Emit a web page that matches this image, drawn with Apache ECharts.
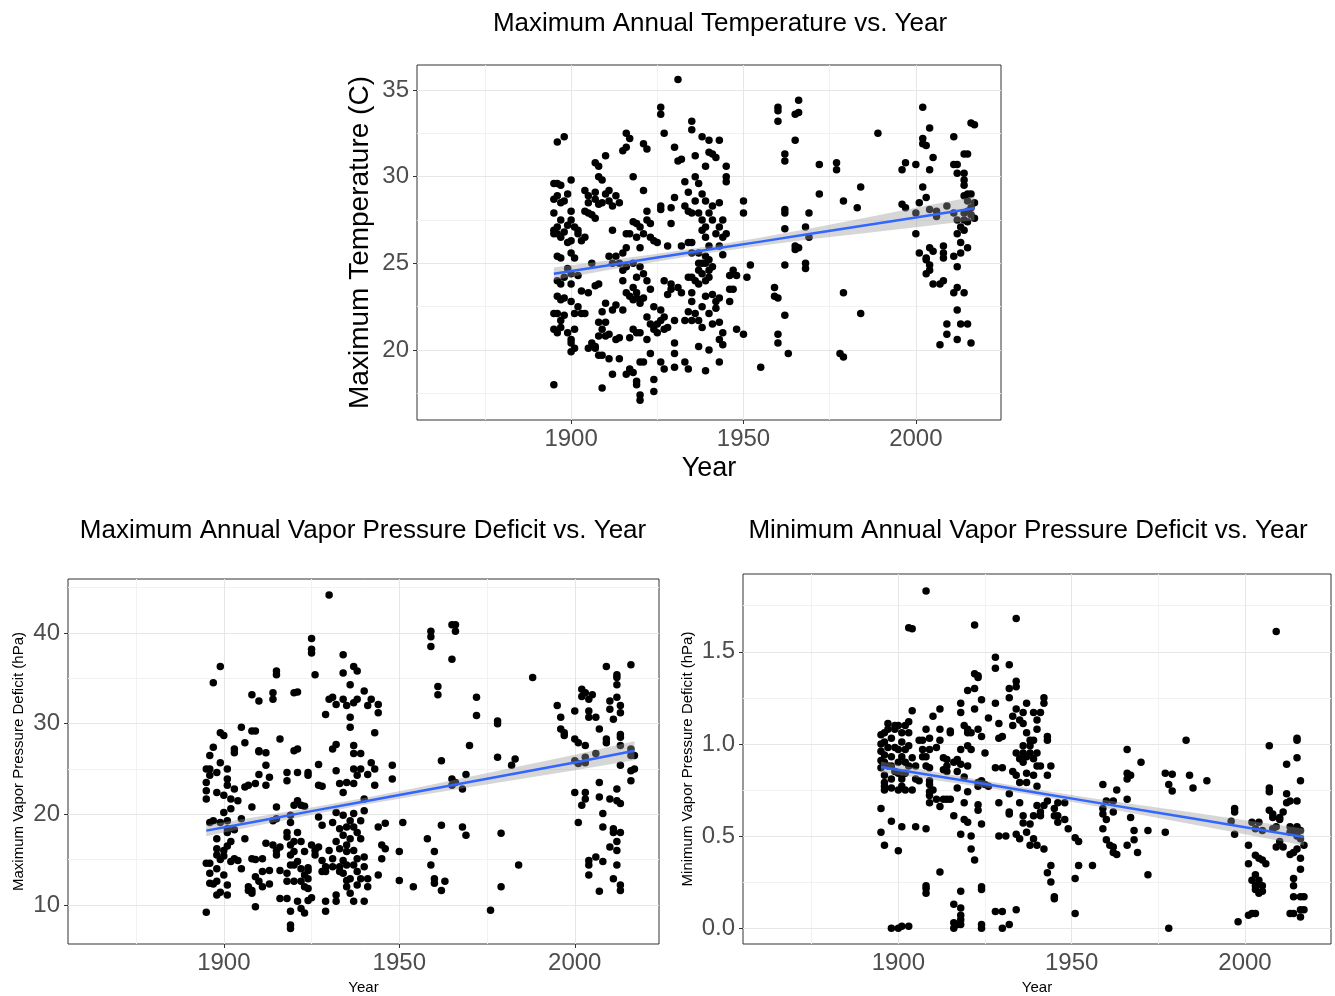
<!DOCTYPE html>
<html>
<head>
<meta charset="utf-8">
<title>Annual temperature and vapor pressure deficit vs. year</title>
<script src="https://cdn.jsdelivr.net/npm/echarts@6.0.0/dist/echarts.min.js"></script>
<style>
html, body { margin: 0; padding: 0; background: #fff; }
#main { width: 1335px; height: 996px; }
</style>
</head>
<body>
<div id="main"></div>
<script>
'use strict';

// ---- maximum annual temperature (C), grouped by year ----
var tmaxYears = [1895, 1896, 1897, 1898, 1899, 1900, 1901, 1902, 1903, 1904, 1905, 1906, 1907, 1908, 1909, 1910,
	1911, 1912, 1913, 1914, 1915, 1916, 1917, 1918, 1919, 1920, 1921, 1922, 1923, 1924, 1925, 1926, 1927, 1928,
	1929, 1930, 1931, 1932, 1933, 1934, 1935, 1936, 1937, 1938, 1939, 1940, 1941, 1942, 1943, 1944, 1945, 1946,
	1947, 1948, 1950, 1951, 1952, 1955, 1959, 1960, 1962, 1963, 1965, 1966, 1968, 1969, 1972, 1977, 1978, 1979,
	1983, 1984, 1989, 1996, 1997, 2000, 2001, 2002, 2003, 2004, 2005, 2006, 2007, 2008, 2009, 2011, 2012, 2013,
	2014, 2015, 2016, 2017];
var tmaxValues = [
	[18.0, 22.1, 21.2, 26.7, 26.9, 27.9, 28.7, 29.6],
	[29.6, 28.9, 27.1, 26.7, 25.4, 24.0, 23.1, 22.1, 21.0, 32.0],
	[28.5, 27.5, 26.5, 25.3, 23.8, 22.9, 21.7, 21.3, 29.5],
	[32.3, 28.6, 26.8, 24.2, 23.0, 22.0],
	[29.0, 27.2, 26.2, 24.7, 21.0],
	[29.8, 28.0, 27.5, 26.3, 25.6, 24.4, 23.8, 22.8, 20.6, 20.4, 19.9],
	[27.1, 25.3, 22.1, 21.2, 20.1],
	[26.7, 24.3, 22.5, 26.9],
	[26.3, 23.4, 22.1],
	[29.2, 28.0, 26.5, 22.1],
	[28.9, 28.5, 27.9, 23.3, 20.1],
	[27.8, 25.0, 20.4],
	[30.8, 29.1, 28.7, 27.6, 23.7, 20.2, 20.1],
	[30.6, 30.0, 28.4, 23.8, 21.6, 20.8, 19.7],
	[29.8, 28.5, 22.2, 21.2, 19.7, 17.8],
	[31.2, 29.0, 22.7, 21.6, 20.8],
	[29.2, 28.6, 25.4, 20.9, 19.5],
	[28.3, 26.9, 25.0, 22.3, 18.6],
	[28.9, 25.4, 22.6, 20.6],
	[28.5, 25.0, 20.7, 19.5],
	[31.5, 25.6, 24.6, 24.0, 22.3],
	[32.5, 31.7, 26.7, 25.9, 24.8, 23.3, 18.6],
	[32.2, 26.7, 23.1, 20.7, 18.9],
	[30.0, 27.4, 25.0, 23.6, 22.9, 21.2, 18.7],
	[27.3, 26.5, 24.2, 23.3, 23.0, 21.0, 18.0, 18.2],
	[27.1, 25.9, 24.8, 22.7, 21.0, 19.3, 17.4, 17.1, 22.9],
	[31.9, 29.2, 26.7, 24.4, 23.0, 19.3],
	[31.6, 28.0, 27.5, 24.0, 21.9, 20.6],
	[27.3, 26.5, 23.5, 21.5, 19.8],
	[26.3, 22.5, 21.2, 18.3, 17.6],
	[26.2, 21.5, 21.0],
	[34.0, 33.6, 28.3, 28.1, 22.3, 21.7, 19.3],
	[32.5, 24.0, 21.2, 18.9, 21.9],
	[26.0, 23.2, 21.3],
	[28.2, 27.3, 23.8, 23.5],
	[31.7, 28.8, 21.7, 20.4, 19.0, 19.8],
	[35.6, 30.9, 23.6],
	[31.0, 26.0, 23.3],
	[29.7, 28.3, 21.7, 19.3],
	[29.1, 28.0, 26.2, 24.2, 22.2, 18.9],
	[33.2, 32.7, 27.9, 26.2, 25.6, 24.2, 23.3, 22.8, 21.7],
	[31.2, 30.0, 28.6, 24.0, 22.1],
	[29.6, 27.9, 25.6, 25.0, 24.6, 23.8, 21.7, 20.2],
	[32.3, 29.0, 27.5, 26.9, 25.0, 24.4, 22.5, 21.3],
	[30.6, 28.6, 27.1, 26.5, 25.4, 25.0, 24.0, 23.1, 18.8],
	[32.1, 31.4, 27.9, 26.0, 25.2, 24.6, 24.2, 22.1, 20.0],
	[31.3, 28.3, 27.5, 24.8, 23.2, 21.5],
	[31.1, 26.7, 22.8, 22.4],
	[32.1, 28.5, 27.1, 26.0, 23.0, 21.6, 20.6, 19.3],
	[27.5, 26.5, 25.5, 21.0, 20.3],
	[30.6, 30.0, 29.7, 26.7],
	[24.3, 23.5, 22.8],
	[24.6, 23.5],
	[24.3, 21.2],
	[28.6, 27.9, 20.9],
	[24.2],
	[24.9],
	[19.0],
	[23.6, 23.1],
	[34.0, 33.8, 33.2, 23.0, 20.9, 20.4],
	[31.3, 30.9, 28.1, 27.9, 27.0, 24.9, 22.0],
	[19.8],
	[33.6, 32.1, 26.0, 25.8],
	[34.4, 33.7, 25.9],
	[27.1, 25.0, 24.7],
	[27.9, 26.5],
	[30.7, 29.0],
	[30.8, 30.4],
	[19.8],
	[28.6, 23.3, 19.6],
	[28.2],
	[29.4, 22.1],
	[32.5],
	[30.4, 28.4],
	[30.8, 28.2],
	[30.7, 27.9, 26.7],
	[28.5, 25.6],
	[34.0, 32.2, 31.9, 29.4],
	[31.8, 28.8, 25.3, 25.2, 24.4],
	[32.8, 30.4, 28.1, 25.9, 24.9, 24.6],
	[31.1, 25.7, 23.8],
	[28.0, 27.7],
	[23.8, 20.3],
	[26.0, 25.6, 25.3, 24.0],
	[28.3, 21.5, 20.9],
	[32.3, 30.7, 27.9, 23.3, 25.4],
	[30.7, 30.2, 27.5, 26.7, 24.8, 22.3, 20.6, 23.6],
	[27.1, 26.2, 25.6, 21.5],
	[31.3, 30.2, 29.8, 29.5, 28.9, 27.9, 27.5, 26.9, 23.3],
	[31.3, 29.0, 28.6, 28.0, 27.4, 25.9, 21.5],
	[33.1, 29.0, 28.2, 27.8, 20.4],
	[33.0, 28.5, 27.6]
];

// ---- maximum annual vapor pressure deficit (hPa), grouped by year ----
var vpdMaxYears = [1895, 1896, 1897, 1898, 1899, 1900, 1901, 1902, 1903, 1904, 1905, 1906, 1907, 1908, 1909, 1910,
	1911, 1912, 1913, 1914, 1915, 1916, 1918, 1919, 1920, 1921, 1922, 1923, 1924, 1925, 1926, 1927, 1928, 1929,
	1930, 1931, 1932, 1933, 1934, 1935, 1936, 1937, 1938, 1939, 1940, 1941, 1942, 1943, 1944, 1945, 1946, 1948,
	1950, 1951, 1954, 1958, 1959, 1960, 1961, 1962, 1963, 1965, 1966, 1968, 1969, 1970, 1972, 1976, 1978, 1979,
	1982, 1983, 1984, 1988, 1995, 1996, 1997, 2000, 2001, 2002, 2003, 2004, 2005, 2006, 2007, 2008, 2009, 2010,
	2011, 2012, 2013, 2016, 2017];
var vpdMaxValues = [
	[9.2, 14.6, 21.7, 22.6, 23.5, 25.0],
	[12.4, 13.5, 14.6, 19.1, 25.0, 26.5, 24.3],
	[27.4, 34.5, 12.3, 19.3],
	[11.1, 12.6, 14.0, 15.5, 16.2, 17.3, 22.4, 24.6],
	[19.1, 25.7, 29.0, 36.3, 15.0, 11.4],
	[28.7, 22.1, 20.2, 16.0, 15.4, 13.3],
	[11.1, 12.2, 18.4, 19.3, 23.2, 23.9, 25.0, 16.5, 18.0],
	[14.8, 20.6, 21.7, 17.0],
	[15.1, 18.3, 26.8, 27.2, 22.8],
	[14.9, 21.5],
	[14.0, 19.5, 29.6],
	[23.0, 27.9, 17.3],
	[11.6, 23.2, 12.0],
	[11.3, 15.1, 20.8, 33.2, 29.2, 11.6],
	[9.8, 15.0, 23.4, 29.2, 13.1],
	[12.6, 27.0, 32.5, 24.4, 26.9],
	[15.1, 12.0, 13.7],
	[16.8, 23.2, 25.4, 26.8],
	[24.1, 12.3, 13.8],
	[32.7, 33.4, 16.6, 19.3],
	[16.0, 19.5, 35.4, 35.8, 15.5, 20.8],
	[10.7, 13.8, 16.4, 28.3],
	[10.7, 12.6, 13.5, 17.5, 18.0, 23.7, 24.6],
	[7.4, 7.8, 9.3, 14.4, 15.5, 16.6, 19.1, 19.9],
	[12.6, 15.9, 21.0, 27.0, 33.4, 17.0, 14.4],
	[10.4, 14.8, 18.0, 21.5, 33.5, 24.6, 27.2],
	[9.6, 12.6, 17.0, 14.0, 21.0],
	[9.1, 15.9, 13.3, 12.0, 20.9],
	[13.8, 12.9, 11.8, 10.5, 24.6, 24.3, 14.1],
	[39.4, 38.2, 37.8, 16.6, 10.8],
	[35.4, 15.5, 16.0],
	[16.4, 25.5, 19.7, 23.2],
	[18.8, 14.9, 13.7, 23.1],
	[31.0, 9.3, 10.4, 13.7, 14.2],
	[44.2, 32.7, 16.0],
	[32.9, 27.2, 19.1, 15.1, 14.2],
	[32.1, 27.7, 24.8, 20.2, 10.4, 11.1, 17.0],
	[23.4, 18.4, 16.2, 14.2, 13.7],
	[37.6, 35.6, 32.7, 19.9, 22.4, 17.7, 14.9, 13.5],
	[32.0, 23.5, 18.6, 16.6, 15.9, 14.4, 12.7, 12.0],
	[34.3, 29.6, 19.3, 17.3, 12.9, 11.3, 30.7],
	[36.3, 32.3, 27.6, 26.7, 25.0, 23.4, 20.1, 18.6, 16.0, 14.4, 10.4],
	[35.8, 32.7, 24.3, 18.0, 15.1, 13.7, 12.2],
	[26.7, 25.0, 19.3, 17.3, 12.9],
	[33.6, 21.7, 20.4, 15.3, 14.2, 10.4],
	[32.0, 24.4, 12.9, 12.0],
	[32.7, 25.7],
	[29.0, 25.0, 23.2],
	[31.2, 32.1, 18.6, 13.3],
	[16.6, 15.1],
	[19.0, 16.2],
	[25.4, 23.9],
	[12.7, 15.9],
	[19.1],
	[12.0],
	[17.3],
	[40.2, 39.6, 38.5, 14.4],
	[15.9, 12.9, 12.4],
	[34.1, 33.2],
	[25.9, 18.8, 11.6],
	[12.6],
	[40.9, 37.1, 23.9, 23.2],
	[40.2, 40.9, 23.5],
	[18.6, 22.8],
	[17.7, 24.4],
	[27.6],
	[32.9, 30.9],
	[9.4],
	[30.3, 30.0, 26.3],
	[17.9, 12.0],
	[25.4],
	[26.1],
	[14.4],
	[35.1],
	[32.0],
	[30.7, 29.4],
	[29.0, 28.7],
	[31.4, 28.3, 22.4, 25.9],
	[27.9, 25.6, 19.1],
	[33.8, 33.0, 21.0],
	[33.4, 27.6, 26.3, 25.7, 22.4, 21.7],
	[32.7, 31.4, 30.7, 14.9, 14.4, 13.3],
	[33.2],
	[30.7, 26.7, 15.3],
	[29.4, 23.5, 21.9, 11.5],
	[20.1, 18.6, 14.8],
	[36.3, 28.3, 27.9],
	[32.5, 31.6, 16.4, 21.7],
	[30.5, 12.9, 18.4, 18.0],
	[35.4, 35.1, 34.3, 32.9, 21.5, 22.8, 17.0, 16.0, 14.4],
	[32.0, 31.2, 28.8, 28.5, 27.6, 25.4, 21.2, 18.0, 12.2, 11.6],
	[36.5, 27.2, 26.5, 24.8, 23.7],
	[26.5, 25.0]
];

// ---- minimum annual vapor pressure deficit (hPa), grouped by year ----
var vpdMinYears = [1895, 1896, 1897, 1898, 1899, 1900, 1901, 1902, 1903, 1904, 1905, 1906, 1907, 1908, 1909, 1910,
	1911, 1912, 1913, 1914, 1915, 1916, 1917, 1918, 1919, 1920, 1921, 1922, 1923, 1924, 1925, 1926, 1928, 1929,
	1930, 1931, 1932, 1933, 1934, 1935, 1936, 1937, 1938, 1939, 1940, 1941, 1942, 1943, 1944, 1945, 1946, 1948,
	1949, 1951, 1952, 1956, 1959, 1960, 1961, 1962, 1963, 1966, 1967, 1968, 1969, 1970, 1972, 1977, 1978, 1979,
	1983, 1984, 1985, 1989, 1996, 1997, 1998, 2001, 2002, 2003, 2004, 2005, 2006, 2007, 2008, 2009, 2010, 2011,
	2012, 2013, 2014, 2015, 2016, 2017];
var vpdMinValues = [
	[0.52, 0.65, 0.87, 0.91, 0.96, 1.0, 1.05],
	[0.45, 0.79, 0.83, 0.90, 0.94, 1.01, 1.06, 0.75, 0.77],
	[1.08, 1.11, 0.88, 0.98],
	[0.0, 0.58, 0.76, 0.81, 0.88, 0.93, 1.03],
	[0.98, 1.08, 1.10, 0.85],
	[0.0, 0.42, 0.75, 0.84, 0.90, 0.97, 1.10],
	[0.01, 0.55, 0.77, 0.81, 0.93, 1.01, 1.06],
	[0.75, 0.84, 0.90, 0.97, 1.10],
	[0.01, 0.88, 0.99, 1.06, 1.63, 1.12],
	[0.75, 0.925, 1.18, 1.625],
	[0.55, 0.81, 0.88],
	[1.02, 0.80],
	[1.02, 0.93, 0.97],
	[1.83, 0.23, 0.215, 0.19, 0.54, 0.88, 1.08, 0.93],
	[0.68, 0.74, 0.80, 0.87, 1.03, 0.97, 0.78, 0.72],
	[1.15, 0.75],
	[0.70, 0.98],
	[0.66, 0.305, 1.02, 1.08, 1.19],
	[0.86, 0.925, 0.70],
	[0.70, 0.915, 0.88, 0.85],
	[1.07, 1.06, 0.70],
	[0.61, 0.13, 0.03, 0.0, 0.90],
	[0.02, 0.76, 0.85, 0.915],
	[0.97, 1.22, 1.17, 0.20, 0.11, 0.07, 0.045, 0.02, 0.51, 0.89],
	[1.10, 0.59, 0.68, 0.82],
	[1.29, 1.08, 0.99, 0.88, 0.74, 0.575, 1.06],
	[0.50, 0.43, 1.06, 0.97],
	[1.645, 1.19, 1.30, 1.38, 0.37],
	[1.37, 1.36, 0.77, 0.67, 0.64, 0.79, 1.08],
	[1.24, 1.04, 0.565, 0.225, 0.21, 0.02, 0.0, 0.80],
	[0.95, 0.78],
	[1.14, 0.77],
	[1.47, 1.41, 1.22, 0.87, 0.09],
	[1.11, 1.03, 0.68, 0.50],
	[1.04, 0.87, 0.09, 0.0],
	[0.50],
	[1.43, 1.30, 1.25, 0.73, 0.63, 0.62, 0.02],
	[1.15, 1.10, 0.85],
	[1.68, 1.34, 1.31, 1.19, 0.95, 0.83, 0.51, 0.10],
	[1.13, 0.92, 0.79, 0.68, 0.485],
	[1.17, 1.11, 0.99, 0.95, 0.90, 0.57, 0.61],
	[1.06, 0.93, 0.84, 0.79, 0.52, 1.22],
	[1.02, 0.99, 0.95, 0.565, 0.45],
	[1.17, 1.02, 0.92, 0.83, 0.61, 0.485],
	[1.13, 1.08, 0.95, 0.88, 0.77, 0.665, 0.45],
	[1.17, 0.88, 0.63, 0.61],
	[1.25, 1.22, 0.665, 0.43],
	[1.04, 1.02, 0.83, 0.69, 0.30],
	[0.88, 0.34, 0.25],
	[0.65, 0.61, 0.17, 0.16],
	[0.575, 0.68, 0.61],
	[0.68, 0.59],
	[0.54],
	[0.49, 0.27, 0.08],
	[0.47, 0.34],
	[0.34],
	[0.65, 0.62, 0.54, 0.78],
	[0.59, 0.48, 0.69],
	[0.45],
	[0.44, 0.41, 0.63, 0.69],
	[0.40, 0.75],
	[0.97, 0.84, 0.81, 0.70, 0.45],
	[0.60, 0.83],
	[0.53, 0.48],
	[0.41],
	[0.90],
	[0.53, 0.29],
	[0.84, 0.52],
	[0.78, 0.0],
	[0.745, 0.835],
	[1.02],
	[0.83],
	[0.76],
	[0.80],
	[0.58],
	[0.51, 0.65, 0.63],
	[0.035],
	[0.45, 0.35, 0.07],
	[0.26, 0.08, 0.575],
	[0.395, 0.29, 0.23, 0.21, 0.54, 0.08],
	[0.38, 0.19, 0.26, 0.575],
	[0.37, 0.23, 0.20, 0.53],
	[0.35],
	[0.74, 0.76, 0.99, 0.64],
	[0.60, 0.62, 0.54],
	[1.61, 0.55, 0.44],
	[0.47, 0.60, 0.59],
	[0.63, 0.44],
	[0.89, 0.73, 0.68],
	[0.55, 0.52, 0.40, 0.08, 0.69],
	[0.27, 0.23, 0.17, 0.08, 0.53, 0.41],
	[1.03, 1.02, 0.925, 0.69, 0.43, 0.50, 0.55],
	[0.38, 0.32, 0.17, 0.10, 0.06, 0.80, 0.53, 0.485],
	[0.10, 0.17, 0.45]
];

// ---- linear fits (lm) with 95% confidence band, read at a few years ----
var fitYears = [1895, 1910, 1925, 1940, 1955, 1970, 1985, 2000, 2017];
var tmaxFit = [24.40, 24.86, 25.33, 25.79, 26.25, 26.72, 27.18, 27.64, 28.17];
var tmaxLow = [24.04, 24.58, 25.11, 25.59, 26.01, 26.40, 26.74, 27.08, 27.49];
var tmaxHigh = [24.76, 25.14, 25.55, 25.99, 26.49, 27.04, 27.62, 28.20, 28.85];
var vpdMaxFit = [18.20, 19.27, 20.35, 21.42, 22.49, 23.57, 24.64, 25.71, 27.00];
var vpdMaxLow = [17.58, 18.79, 19.95, 21.04, 22.04, 22.99, 23.92, 24.85, 25.95];
var vpdMaxHigh = [18.82, 19.75, 20.75, 21.80, 22.94, 24.15, 25.36, 26.57, 28.05];
var vpdMinFit = [0.875, 0.828, 0.782, 0.735, 0.688, 0.641, 0.595, 0.548, 0.495];
var vpdMinLow = [0.845, 0.806, 0.764, 0.718, 0.668, 0.615, 0.563, 0.510, 0.449];
var vpdMinHigh = [0.905, 0.850, 0.800, 0.752, 0.708, 0.667, 0.627, 0.586, 0.541];

// ---- tick labels ----
var yearTicks = [1900, 1950, 2000];
var yearMinor = [1875, 1925, 1975];
var tmaxTicks = [20, 25, 30, 35];
var tmaxMinor = [17.5, 22.5, 27.5, 32.5];
var vpdMaxTicks = [10, 20, 30, 40];
var vpdMaxMinor = [15, 25, 35, 45];
var vpdMinTicks = [0, 0.5, 1.0, 1.5];
var vpdMinMinor = [0.25, 0.75, 1.25, 1.75];

var FONT = '"Liberation Sans", Arial, Helvetica, sans-serif';
var TICK_GREY = '#4d4d4d';

function toPoints(years, values) {
	var pts = [];
	for (var i = 0; i < years.length; i++) {
		for (var j = 0; j < values[i].length; j++) {
			pts.push([years[i], values[i][j]]);
		}
	}
	return pts;
}

function pairs(xs, ys) {
	var out = [];
	for (var i = 0; i < xs.length; i++) out.push([xs[i], ys[i]]);
	return out;
}

// theme_bw style grid lines, drawn as mark lines behind the points
function panelGrid(xMajor, xMinor, yMajor, yMinor) {
	var data = [];
	var minor = { color: '#f2f2f2', width: 1, type: 'solid' };
	var major = { color: '#e6e6e6', width: 1, type: 'solid' };
	xMinor.forEach(function (v) { data.push({ xAxis: v, lineStyle: minor }); });
	yMinor.forEach(function (v) { data.push({ yAxis: v, lineStyle: minor }); });
	xMajor.forEach(function (v) { data.push({ xAxis: v, lineStyle: major }); });
	yMajor.forEach(function (v) { data.push({ yAxis: v, lineStyle: major }); });
	return {
		silent: true,
		symbol: ['none', 'none'],
		label: { show: false },
		animation: false,
		z: 1,
		data: data
	};
}

function xAxisFor(idx, min, max, nameSize, nameGap) {
	return {
		type: 'value', gridIndex: idx, min: min, max: max,
		name: 'Year', nameLocation: 'middle', nameGap: nameGap,
		nameTextStyle: { fontFamily: FONT, fontSize: nameSize, color: '#000' },
		axisLine: { show: false },
		axisTick: { show: true, length: 4, customValues: yearTicks, lineStyle: { color: '#333', width: 1 } },
		axisLabel: {
			customValues: yearTicks, margin: 7, fontFamily: FONT, fontSize: 24, color: TICK_GREY,
			formatter: function (v) { return String(v); }
		},
		splitLine: { show: false }
	};
}

function yAxisFor(idx, min, max, ticks, name, nameSize, nameGap, digits) {
	return {
		type: 'value', gridIndex: idx, min: min, max: max,
		name: name, nameLocation: 'middle', nameGap: nameGap,
		nameTextStyle: { fontFamily: FONT, fontSize: nameSize, color: '#000' },
		axisLine: { show: false },
		axisTick: { show: true, length: 4, customValues: ticks, lineStyle: { color: '#333', width: 1 } },
		axisLabel: {
			customValues: ticks, margin: 8, fontFamily: FONT, fontSize: 24, color: TICK_GREY,
			formatter: function (v) { return v.toFixed(digits); }
		},
		splitLine: { show: false }
	};
}

function bandSeries(idx, years, low, high) {
	return {
		type: 'custom', xAxisIndex: idx, yAxisIndex: idx, silent: true, z: 3,
		data: [[years[0], low[0]]],
		renderItem: function (params, api) {
			var pts = [];
			for (var i = 0; i < years.length; i++) pts.push(api.coord([years[i], high[i]]));
			for (var j = years.length - 1; j >= 0; j--) pts.push(api.coord([years[j], low[j]]));
			return { type: 'polygon', shape: { points: pts }, style: { fill: 'rgba(153,153,153,0.4)' } };
		}
	};
}

function fitSeries(idx, years, fit) {
	return {
		type: 'line', xAxisIndex: idx, yAxisIndex: idx, silent: true, z: 4,
		data: pairs(years, fit), showSymbol: false, smooth: false,
		lineStyle: { color: '#3366ff', width: 2.5 }
	};
}

function pointSeries(idx, pts, grid) {
	return {
		type: 'scatter', xAxisIndex: idx, yAxisIndex: idx, z: 2,
		data: pts, symbolSize: 7.5,
		itemStyle: { color: '#000', opacity: 1 },
		markLine: grid
	};
}

function titleFor(text, x, y) {
	return {
		text: text, left: x, top: y, textAlign: 'center', textVerticalAlign: 'top', padding: 0,
		textStyle: { fontFamily: FONT, fontSize: 26, fontWeight: 'normal', color: '#000' }
	};
}

var chart = echarts.init(document.getElementById('main'), null, { renderer: 'canvas' });

var gridBox = { show: true, borderColor: '#333', borderWidth: 1, backgroundColor: 'transparent', containLabel: false };

var option = {
	backgroundColor: '#fff',
	animation: false,
	title: [
		titleFor('Maximum Annual Temperature vs. Year', 720, 11),
		titleFor('Maximum Annual Vapor Pressure Deficit vs. Year', 363, 518),
		titleFor('Minimum Annual Vapor Pressure Deficit vs. Year', 1028, 518)
	],
	grid: [
		Object.assign({ left: 417, top: 65, width: 584, height: 355 }, gridBox),
		Object.assign({ left: 68, top: 579, width: 591, height: 367 }, gridBox),
		Object.assign({ left: 743, top: 574, width: 588, height: 372 }, gridBox)
	],
	xAxis: [
		xAxisFor(0, 1855.3, 2024.7, 27, 35),
		xAxisFor(1, 1855.6, 2024.0, 15, 36),
		xAxisFor(2, 1855.2, 2024.8, 15, 36)
	],
	yAxis: [
		yAxisFor(0, 15.96, 36.44, tmaxTicks, 'Maximum Temperature (C)', 28, 43, 0),
		yAxisFor(1, 5.69, 45.96, vpdMaxTicks, 'Maximum Vapor Pressure Deficit (hPa)', 15, 42, 0),
		yAxisFor(2, -0.086, 1.922, vpdMinTicks, 'Minimum Vapor Pressure Deficit (hPa)', 15, 48, 1)
	],
	series: [
		pointSeries(0, toPoints(tmaxYears, tmaxValues), panelGrid(yearTicks, yearMinor, tmaxTicks, tmaxMinor)),
		bandSeries(0, fitYears, tmaxLow, tmaxHigh),
		fitSeries(0, fitYears, tmaxFit),
		pointSeries(1, toPoints(vpdMaxYears, vpdMaxValues), panelGrid(yearTicks, yearMinor, vpdMaxTicks, vpdMaxMinor)),
		bandSeries(1, fitYears, vpdMaxLow, vpdMaxHigh),
		fitSeries(1, fitYears, vpdMaxFit),
		pointSeries(2, toPoints(vpdMinYears, vpdMinValues), panelGrid(yearTicks, yearMinor, vpdMinTicks, vpdMinMinor)),
		bandSeries(2, fitYears, vpdMinLow, vpdMinHigh),
		fitSeries(2, fitYears, vpdMinFit)
	]
};

chart.setOption(option);
</script>
</body>
</html>
